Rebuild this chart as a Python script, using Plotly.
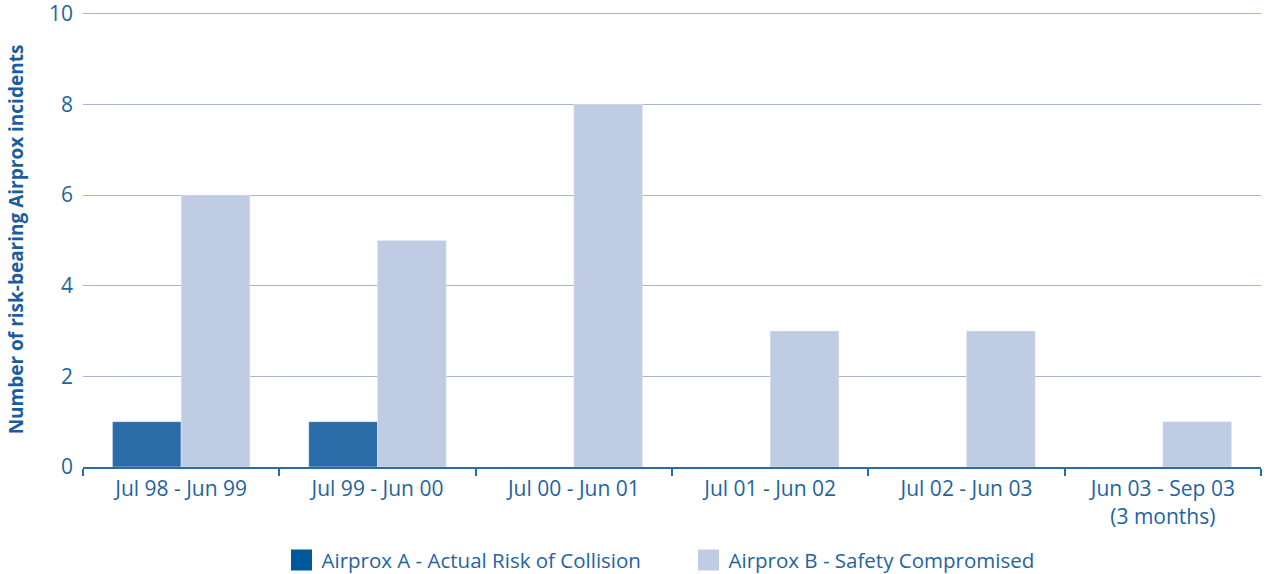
"""
Risk-bearing Airprox incidents by period
"""
import plotly.graph_objects as go

# Data
periods = ['Jul 98 - Jun 99', 'Jul 99 - Jun 00', 'Jul 00 - Jun 01',
           'Jul 01 - Jun 02', 'Jul 02 - Jun 03', 'Jun 03 - Sep 03<br>(3 months)']
airprox_a = [1, 1, 0, 0, 0, 0]
airprox_b = [6, 5, 8, 3, 3, 1]
y_ticks = [0, 2, 4, 6, 8, 10]

COLORS = {
    'a': '#2a6ca8',
    'a_legend': '#00589a',
    'b': '#c0cbe4',
    'text': '#1f64a0',
    'grid': '#a9b4d0',
}
FONT = 'Open Sans'

fig = go.Figure()

# Bars (legend drawn from marker proxies so the swatches can be bigger)
fig.add_trace(go.Bar(x=periods, y=airprox_a, marker_color=COLORS['a'],
                     name='Airprox A - Actual Risk of Collision', showlegend=False))
fig.add_trace(go.Bar(x=periods, y=airprox_b, marker_color=COLORS['b'],
                     name='Airprox B - Safety Compromised', showlegend=False))

# Legend proxies
fig.add_trace(go.Scatter(x=[None], y=[None], mode='markers',
                         marker=dict(symbol='square', size=16, color=COLORS['a_legend'],
                                     line=dict(color=COLORS['a_legend'], width=5)),
                         name='Airprox A - Actual Risk of Collision'))
fig.add_trace(go.Scatter(x=[None], y=[None], mode='markers',
                         marker=dict(symbol='square', size=16, color=COLORS['b'],
                                     line=dict(color=COLORS['b'], width=5)),
                         name='Airprox B - Safety Compromised'))

fig.update_layout(
    width=1269, height=574,
    barmode='group', bargap=0.3, bargroupgap=0,
    plot_bgcolor='white', paper_bgcolor='white',
    margin=dict(l=83, r=8, t=12, b=107, autoexpand=False),
    font=dict(family=FONT, color=COLORS['text'], size=20),
    legend=dict(orientation='h', x=0.514, xanchor='center', y=-0.205, yanchor='middle',
                font=dict(size=20.5, color=COLORS['text']),
                itemsizing='trace', entrywidth=362),
)

fig.update_xaxes(
    showline=True, linecolor=COLORS['a'], linewidth=2,
    ticks='outside', tickson='boundaries', ticklen=7, tickcolor=COLORS['a'], tickwidth=2,
    tickfont=dict(size=21, color=COLORS['text']), ticklabelstandoff=2,
    showgrid=False, automargin=False,
)
# range a touch above 10 so the top grid line is not clipped
fig.update_yaxes(
    range=[0, 10.04], tickvals=y_ticks,
    showgrid=True, gridcolor=COLORS['grid'], gridwidth=1,
    zeroline=False, showline=False, ticks='', ticklabelstandoff=9,
    ticklabeloverflow='allow',
    tickfont=dict(size=21, color=COLORS['text']), automargin=True,
    title=dict(text='<b>Number of risk-bearing Airprox incidents</b>',
               font=dict(size=19, color='#1a5d9c'), standoff=20),
)

# drop the default 8px page margin so the figure fills the window
fig.write_html("out.html", config={'displayModeBar': False},
               post_script="document.body.style.margin = '0px';")
